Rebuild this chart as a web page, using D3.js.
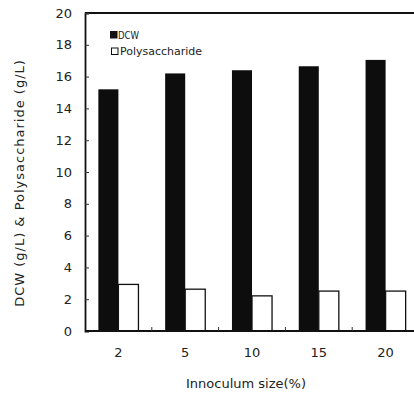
<!DOCTYPE html>
<html><head><meta charset="utf-8">
<script src="https://cdn.jsdelivr.net/npm/d3@7"></script>
<style>body{margin:0;background:#fff}svg{display:block}text{font-family:"DejaVu Sans",Arial,sans-serif}</style>
</head><body>
<svg id="c" width="414" height="396"></svg>
<script>
const categories = ["2","5","10","15","20"];
const dcw = [15.2, 16.2, 16.4, 16.65, 17.05];
const polysaccharide = [2.93, 2.63, 2.21, 2.51, 2.51];
const yTicks = [0,2,4,6,8,10,12,14,16,18,20];
const seriesNames = ["DCW","Polysaccharide"];

const svg = d3.select("#c");
const m = {left:85, top:13, right:-5, bottom:65};
const W = 414, H = 396;
const x0 = d3.scaleBand().domain(categories).range([m.left, W - m.right]).paddingInner(0.4).paddingOuter(0.2);
const x1 = d3.scaleBand().domain(seriesNames).range([0, x0.bandwidth()]);
const y = d3.scaleLinear().domain([0,20]).range([H - m.bottom, m.top]);

const data = categories.map((c,i)=>({c, vals:[dcw[i], polysaccharide[i]]}));

const g = svg.append("g");
g.selectAll("g.grp").data(data).join("g").attr("class","grp")
  .attr("transform", d=>`translate(${x0(d.c)},0)`)
  .selectAll("rect").data(d=>d.vals.map((v,j)=>({v, s:seriesNames[j]})))
  .join("rect")
  .attr("x", d=>x1(d.s)).attr("width", x1.bandwidth())
  .attr("y", d=>y(d.v)).attr("height", d=>y(0)-y(d.v))
  .attr("fill", d=>d.s==="DCW" ? "#0d0d0d" : "#fff")
  .attr("stroke", d=>d.s==="DCW" ? "none" : "#111")
  .attr("stroke-width", 1.3);

// top frame line
svg.append("line").attr("x1", m.left).attr("x2", W+5).attr("y1", y(20)).attr("y2", y(20)).attr("stroke","#111").attr("stroke-width",1.8);

// Y axis
const ya = svg.append("g").attr("transform",`translate(${m.left},0)`)
  .call(d3.axisLeft(y).tickValues(yTicks).tickSize(-4).tickPadding(13));
ya.select(".domain").attr("stroke","#111").attr("stroke-width",1.8);
ya.selectAll(".tick line").attr("stroke","#333");
ya.selectAll("text").attr("font-size",13).attr("fill","#222");

// X axis
const xa = svg.append("g").attr("transform",`translate(0,${y(0)})`)
  .call(d3.axisBottom(x0).tickSize(0).tickPadding(17));
xa.select(".domain").attr("stroke","#111").attr("stroke-width",1.8).attr("d", `M${m.left},0H${W+5}`);
xa.selectAll("text").attr("font-size",13).attr("fill","#222");
const step = x0.step();
const seps = categories.slice(1).map(c=>x0(c) - x0.paddingInner()*step/2);
xa.selectAll("line.sep").data(seps).join("line").attr("class","sep")
  .attr("x1",d=>d).attr("x2",d=>d).attr("y1",0).attr("y2",-4).attr("stroke","#333");

// axis titles
svg.append("text").attr("x", 246).attr("y", 388).attr("text-anchor","middle")
  .attr("font-size",13).attr("fill","#222").text("Innoculum size(%)");
svg.append("text").attr("transform","translate(24,183) rotate(-90)").attr("text-anchor","middle")
  .attr("font-size",13).attr("letter-spacing",1).attr("fill","#222").text("DCW (g/L) & Polysaccharide (g/L)");

// legend
const leg = [
  {s:"DCW", sq:[110,31], tx:[118,38.5], fill:"#111", len:21},
  {s:"Polysaccharide", sq:[111,47.5], tx:[120,55], fill:"#fff", len:82}
];
leg.forEach(d=>{
  svg.append("rect").attr("x",d.sq[0]+0.5).attr("y",d.sq[1]+0.5).attr("width",6.5).attr("height",6.5)
    .attr("fill", d.fill).attr("stroke","#111").attr("stroke-width",1);
  svg.append("text").attr("x",d.tx[0]).attr("y",d.tx[1]).attr("font-size",11)
    .attr("textLength", d.len).attr("lengthAdjust","spacingAndGlyphs").attr("fill","#222").text(d.s);
});
</script>
</body></html>
